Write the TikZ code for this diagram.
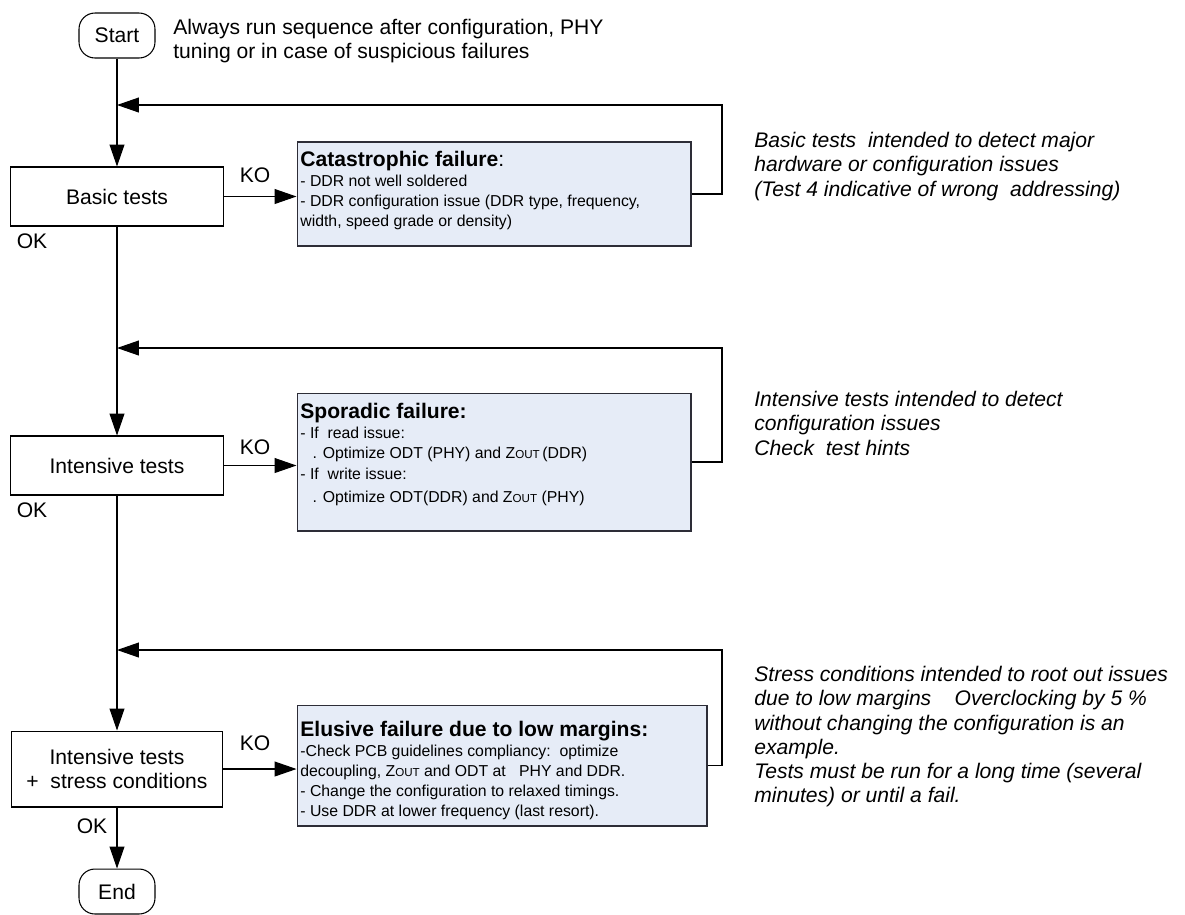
\documentclass[tikz,border=0pt]{standalone}
\usepackage{fontspec}
\setmainfont{Liberation Sans}
\usetikzlibrary{arrows.meta, shadows}

\definecolor{failfill}{RGB}{230,236,247}
\definecolor{failedge}{RGB}{45,45,55}

\newcommand{\zout}{Z{\fontsize{6.6}{6.6}\selectfont OUT}}

\tikzset{
    terminal/.style = {draw, line width=0.6pt, rounded corners=0.32cm,
        minimum width=1.52cm, minimum height=0.9cm, font=\fontsize{12}{14}\selectfont},
    testbox/.style = {draw, line width=0.6pt, minimum width=4.26cm,
        minimum height=1.18cm, align=center, font=\fontsize{12}{14}\selectfont},
    failbox/.style = {draw=failedge, fill=failfill, line width=0.6pt,
        drop shadow={shadow xshift=0.7pt, shadow yshift=-0.7pt, fill=gray!70, opacity=1}},
    failtext/.style = {anchor=north west, align=left, inner sep=0pt,
        font=\fontsize{9}{11.3}\selectfont},
    note/.style = {anchor=north west, align=left, inner sep=0pt,
        font=\fontsize{12}{13.8}\selectfont},
    tag/.style = {inner sep=0pt, font=\fontsize{12}{14}\selectfont},
    flow/.style = {line width=0.6pt, -{Triangle[length=12.5pt, width=8.5pt]}}
}

\begin{document}
\begin{tikzpicture}[x=0.02cm, y=-0.02cm]
    \useasboundingbox (0,0) rectangle (1185,914);

    % flow column
    \node[terminal] (start) at (117,35.5) {Start};
    \node[testbox] (basic) at (117,196.5) {Basic tests};
    \node[testbox] (intens) at (117,465.5) {Intensive tests};
    \node[testbox, minimum width=4.22cm, minimum height=1.52cm] (stress) at (117,769)
        {Intensive tests\\+\ \ stress conditions};
    \node[terminal] (end) at (117,891.5) {End};

    % failure boxes
    \node[failbox, minimum width=7.88cm, minimum height=2.08cm] (cat) at (494,194) {};
    \node[failbox, minimum width=7.88cm, minimum height=2.76cm] (spor) at (494,462) {};
    \node[failbox, minimum width=8.2cm, minimum height=2.42cm] (elus) at (502,765.5) {};

    \node[failtext] (cattxt) at (300,151)
        {{\fontsize{12}{13}\selectfont\textbf{Catastrophic failure}:}\\
        - DDR not well soldered\\
        - DDR configuration issue (DDR type, frequency,\\
        width, speed grade or density)};
    \node[failtext] (sportxt) at (300,403)
        {{\fontsize{12}{13}\selectfont\textbf{Sporadic failure:}}\\
        - If\ \ read issue:\\
        \hspace*{7pt}. Optimize ODT (PHY) and \zout\,(DDR)\\[1pt]
        - If\ \ write issue:\\[1.5pt]
        \hspace*{7pt}. Optimize ODT(DDR) and \zout\ (PHY)};
    \node[failtext] (elustxt) at (300,721)
        {{\fontsize{12}{13}\selectfont\textbf{Elusive failure due to low margins:}}\\
        -Check PCB guidelines compliancy:\ \ optimize\\
        decoupling, \zout\ and ODT at\ \ \ PHY and DDR.\\
        - Change the configuration to relaxed timings.\\
        - Use DDR at lower frequency (last resort).};

    % notes
    \node[note] (startnote) at (173,19)
        {Always run sequence after configuration, PHY\\
        tuning or in case of suspicious failures};
    \node[note, font=\fontsize{12}{13.8}\selectfont\itshape] (basicnote) at (754,132)
        {Basic tests\ \ intended to detect major\\
        hardware or configuration issues\\
        (Test 4 indicative of wrong\ \ addressing)};
    \node[note, font=\fontsize{12}{13.8}\selectfont\itshape] (intensnote) at (754,391)
        {Intensive tests intended to detect\\
        configuration issues\\
        Check\ \ test hints};
    \node[note, font=\fontsize{12}{13.8}\selectfont\itshape] (stressnote) at (754,666)
        {Stress conditions intended to root out issues\\
        due to low margins\ \ \ \ Overclocking by 5 \%\\
        without changing the configuration is an\\
        example.\\
        Tests must be run for a long time (several\\
        minutes) or until a fail.};

    % return points
    \coordinate (j1) at (117,105);
    \coordinate (j2) at (117,348);
    \coordinate (j3) at (117,650);
    \coordinate (back1) at (722,105);
    \coordinate (back2) at (722,348);
    \coordinate (back3) at (722,650);

    % main flow
    \draw[flow] (start) -- (basic);
    \draw[flow] (basic) -- (intens);
    \draw[flow] (intens) -- (stress);
    \draw[flow] (stress) -- (end);

    % KO branches
    \draw[flow] (basic.east) -- (basic.east -| cat.west);
    \draw[flow] (intens.east) -- (intens.east -| spor.west);
    \draw[flow] (stress.east) -- (stress.east -| elus.west);

    % back to the flow
    \draw[flow] (cat.east) -| (back1) -- (j1);
    \draw[flow] (spor.east) -| (back2) -- (j2);
    \draw[flow] (elus.east) -| (back3) -- (j3);

    % OK / KO tags
    \node[tag] (ko1) at (255,175) {KO};
    \node[tag] (ko2) at (255,447) {KO};
    \node[tag] (ko3) at (255,743) {KO};
    \node[tag] (ok1) at (32,241) {OK};
    \node[tag] (ok2) at (32,510) {OK};
    \node[tag] (ok3) at (92,826) {OK};
\end{tikzpicture}
\end{document}
